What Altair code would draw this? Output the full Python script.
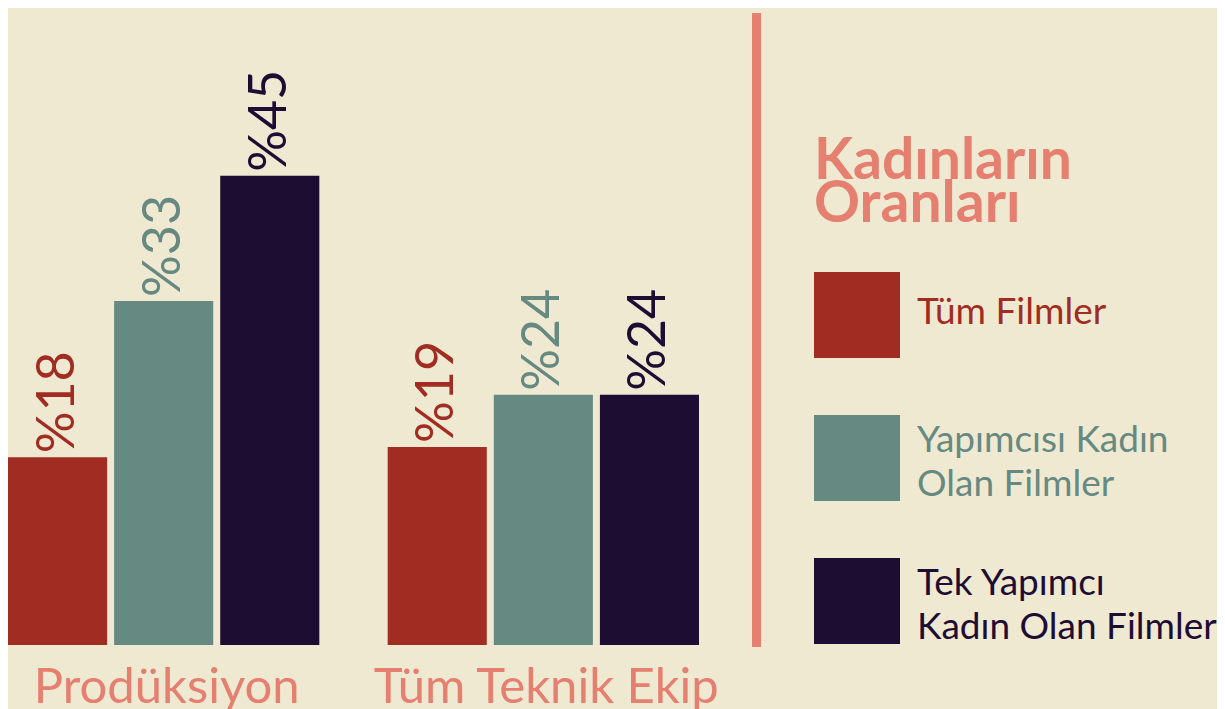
import altair as alt
import pandas as pd

# ---- data ----
groups = ["Prodüksiyon", "Tüm Teknik Ekip"]
series = ["Tüm Filmler", "Yapımcısı Kadın Olan Filmler", "Tek Yapımcı Kadın Olan Filmler"]
legend_labels = ["Tüm Filmler", "Yapımcısı Kadın\nOlan Filmler", "Tek Yapımcı\nKadın Olan Filmler"]
values_prod = [18, 33, 45]
values_tech = [19, 24, 24]
legend_title = "Kadınların\nOranları"

# ---- style ----
colors = ["#a12d22", "#668a82", "#1e0d33"]
PINK = "#e57f70"
BG = "#f0e9d2"
FONT = "Lato"

rows = []
for g, vals in zip(groups, [values_prod, values_tech]):
    for s, v in zip(series, vals):
        rows.append({"group": g, "series": s, "value": v, "label": f"%{v}"})
df = pd.DataFrame(rows)

color_scale = alt.Scale(domain=series, range=colors)

base = alt.Chart(df).encode(
    x=alt.X(
        "group:N",
        sort=groups,
        scale=alt.Scale(paddingInner=0.18, paddingOuter=0),
        axis=alt.Axis(
            title=None,
            orient="bottom",
            labelFontSize=49,
            labelColor=PINK,
            labelFont=FONT,
            ticks=False,
            domain=False,
            grid=False,
            labelPadding=18,
            labelAngle=0,
            labelLimit=600,
            labelOffset=3,
        ),
    ),
    xOffset=alt.XOffset(
        "series:N", sort=series, scale=alt.Scale(paddingInner=0.066, paddingOuter=0)
    ),
    y=alt.Y("value:Q", scale=alt.Scale(domain=[0, 60.8]), axis=None),
    color=alt.Color("series:N", scale=color_scale, legend=None),
)

bars = base.mark_bar()
labels = base.mark_text(
    angle=270, align="left", baseline="middle", dx=4, fontSize=52, font=FONT
).encode(text="label:N")
bar_chart = alt.layer(bars, labels).properties(width=691, height=634)

# ---- legend panel ----
leg_df = pd.DataFrame({"series": series, "label": legend_labels, "idx": [0, 1, 2]})
ypos = alt.Y("idx:Q", scale=alt.Scale(domain=[0, 2], range=[304, 590]), axis=None)
leg_color = alt.Color("series:N", scale=color_scale, legend=None)

rule = alt.Chart(pd.DataFrame({"a": [0]})).mark_rule(color=PINK, strokeWidth=9).encode(
    x=alt.value(6.5), y=alt.value(2), y2=alt.value(636)
)
title = alt.Chart(pd.DataFrame({"t": [legend_title]})).mark_text(
    align="left",
    baseline="alphabetic",
    lineBreak="\n",
    fontSize=57,
    fontWeight="bold",
    lineHeight=43,
    color=PINK,
    font=FONT,
).encode(x=alt.value(64), y=alt.value(168), text="t:N")
swatches = alt.Chart(leg_df).mark_square(size=86 * 86, opacity=1, filled=True).encode(
    x=alt.value(107), y=ypos, color=leg_color
)
text_props = dict(align="left", baseline="middle", lineBreak="\n", fontSize=37,
                  lineHeight=44, font=FONT)
leg_text_one = (
    alt.Chart(leg_df)
    .transform_filter("indexof(datum.label, '\\n') < 0")
    .mark_text(dy=-2, **text_props)
    .encode(x=alt.value(167), y=ypos, text="label:N", color=leg_color)
)
leg_text_two = (
    alt.Chart(leg_df)
    .transform_filter("indexof(datum.label, '\\n') >= 0")
    .mark_text(dy=-17, **text_props)
    .encode(x=alt.value(167), y=ypos, text="label:N", color=leg_color)
)

legend_chart = alt.layer(rule, title, swatches, leg_text_one, leg_text_two).properties(
    width=460, height=634
)

chart = (
    alt.hconcat(bar_chart, legend_chart, spacing=51, bounds="flush", padding=0)
    .configure(background=BG, font=FONT)
    .configure_view(strokeWidth=0)
)

chart.save("out.html", embed_options={"renderer": "svg", "actions": False})
